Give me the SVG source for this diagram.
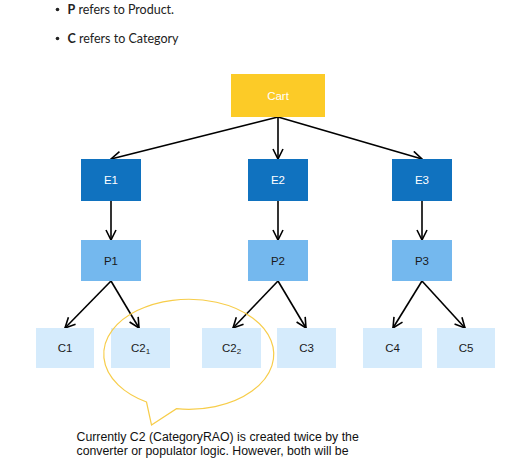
<svg xmlns="http://www.w3.org/2000/svg" width="506" height="463" viewBox="0 0 506 463">
<style>
.bul{font-family:Lato,"Liberation Sans",sans-serif;font-size:12.5px;fill:#222}
.lbl{font-family:"Liberation Sans",Arial,sans-serif;font-size:11.5px;text-anchor:middle}
.w{fill:#ffffff}
.d{fill:#1a1a1a}
.cart{fill:#fccb27}
.e{fill:#1072bf}
.p{fill:#74b8ee}
.c{fill:#d5ebfc}
.con{stroke:#000;stroke-width:1.6;fill:none;marker-end:url(#arr)}
.note{font-family:"Liberation Sans",Arial,sans-serif;font-size:12.3px;fill:#111}
</style>
<defs>
<marker id="arr" viewBox="0 0 12 12" refX="11" refY="6" markerWidth="12" markerHeight="12" markerUnits="userSpaceOnUse" orient="auto">
<path d="M1,1 L11,6 L1,11" fill="none" stroke="#000" stroke-width="1.6"/>
</marker>
</defs>
<rect width="506" height="463" fill="#fff"/>
<g id="legend">
<circle cx="57.5" cy="9.5" r="1.8" fill="#222"/>
<text class="bul" x="67.5" y="13.5"><tspan font-weight="bold">P</tspan> refers to Product.</text>
<circle cx="57.5" cy="38.5" r="1.8" fill="#222"/>
<text class="bul" x="67.5" y="42.5"><tspan font-weight="bold">C</tspan> refers to Category</text>
</g>
<g id="connectors">
<line class="con" x1="278" y1="117" x2="111" y2="159"/>
<line class="con" x1="278" y1="117" x2="278" y2="159"/>
<line class="con" x1="278" y1="117" x2="422" y2="159"/>
<line class="con" x1="111" y1="201" x2="111" y2="240"/>
<line class="con" x1="278" y1="201" x2="278" y2="240"/>
<line class="con" x1="422" y1="201" x2="422" y2="240"/>
<line class="con" x1="111" y1="281" x2="65" y2="328"/>
<line class="con" x1="111" y1="281" x2="139" y2="328"/>
<line class="con" x1="278" y1="281" x2="233" y2="328"/>
<line class="con" x1="278" y1="281" x2="306" y2="328"/>
<line class="con" x1="422" y1="281" x2="393" y2="328"/>
<line class="con" x1="422" y1="281" x2="465" y2="328"/>
</g>
<g id="cart"><rect class="cart" x="231" y="74" width="94" height="43"/><text class="lbl w" x="278" y="99.5">Cart</text></g>
<g id="e1"><rect class="e" x="81" y="159" width="60" height="42"/><text class="lbl w" x="111" y="184">E1</text></g>
<g id="e2"><rect class="e" x="248" y="159" width="60" height="42"/><text class="lbl w" x="278" y="184">E2</text></g>
<g id="e3"><rect class="e" x="392" y="159" width="60" height="42"/><text class="lbl w" x="422" y="184">E3</text></g>
<g id="p1"><rect class="p" x="81" y="240" width="60" height="41"/><text class="lbl d" x="111" y="264.5">P1</text></g>
<g id="p2"><rect class="p" x="248" y="240" width="60" height="41"/><text class="lbl d" x="278" y="264.5">P2</text></g>
<g id="p3"><rect class="p" x="392" y="240" width="60" height="41"/><text class="lbl d" x="422" y="264.5">P3</text></g>
<g id="c1"><rect class="c" x="36" y="328" width="58" height="40"/><text class="lbl d" x="65" y="352">C1</text></g>
<g id="c2_1"><rect class="c" x="111" y="328" width="59" height="40"/><text class="lbl d" x="140.5" y="352">C2<tspan font-size="8" dy="2">1</tspan></text></g>
<g id="c2_2"><rect class="c" x="202" y="328" width="59" height="40"/><text class="lbl d" x="231.5" y="352">C2<tspan font-size="8" dy="2">2</tspan></text></g>
<g id="c3"><rect class="c" x="277" y="328" width="59" height="40"/><text class="lbl d" x="306.5" y="352">C3</text></g>
<g id="c4"><rect class="c" x="363" y="328" width="59" height="40"/><text class="lbl d" x="392.5" y="352">C4</text></g>
<g id="c5"><rect class="c" x="437" y="328" width="58" height="40"/><text class="lbl d" x="466" y="352">C5</text></g>
<g id="note">
<path d="M146.5,402 A85,55 0 1 1 176.5,408.7 L151.5,425 Z" fill="none" stroke="#f7cd4a" stroke-width="1.2"/>
<text class="note" x="76.5" y="440.5">Currently C2 (CategoryRAO) is created twice by the</text>
<text class="note" x="76.5" y="454.5">converter or populator logic. However, both will be</text>
</g>
</svg>
